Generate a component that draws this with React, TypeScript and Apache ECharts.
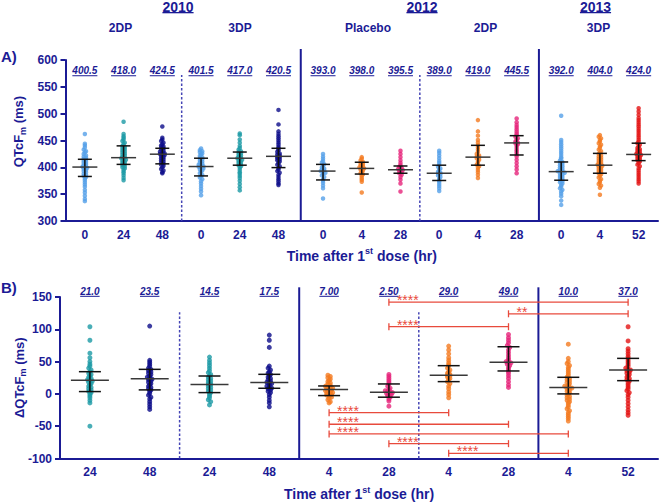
import React, { useEffect, useRef } from "react";
import * as echarts from "echarts";

const BLUE = "#1b1b95";
const RED = "#e84a3c";
const FONT = "'Liberation Sans', Arial, Helvetica, sans-serif";

const COLORS: Record<string, string> = {
  lb: "#55a0e8",
  tl: "#1b9aa5",
  nv: "#0c0c8a",
  or: "#f47a20",
  pk: "#e6247a",
  rd: "#e41414",
};

// ---------- Panel A: QTcFm ----------
const catA = ["0", "24", "48", "0", "24", "48", "0", "4", "28", "0", "4", "28", "0", "4", "52"];
const studyA = [0, 0, 0, 0, 0, 0, 1, 1, 1, 1, 1, 1, 2, 2, 2];
const armA = [0, 0, 0, 1, 1, 1, 2, 2, 2, 3, 3, 3, 4, 4, 4];
const medianA = [400.5, 418.0, 424.5, 401.5, 417.0, 420.5, 393.0, 398.0, 395.5, 389.0, 419.0, 445.5, 392.0, 404.0, 424.0];
const medianTextA = ["400.5", "418.0", "424.5", "401.5", "417.0", "420.5", "393.0", "398.0", "395.5", "389.0", "419.0", "445.5", "392.0", "404.0", "424.0"];
const q1A = [383, 405.5, 406.5, 384, 404, 399.5, 376.5, 387.5, 389, 375.5, 404, 423, 376, 389, 412.5];
const q3A = [415, 440, 435.5, 417, 428.5, 435.5, 405.5, 409.5, 402.5, 404, 441, 459, 410, 426, 445];
const colorA = ["lb", "tl", "nv", "lb", "tl", "nv", "lb", "or", "pk", "lb", "or", "pk", "lb", "or", "rd"];
const dotsA: number[][] = [
  [462, 444, 441, 437, 433, 430, 428, 425, 422, 420, 418, 416, 414, 412, 410, 408, 406, 404, 402, 401, 400, 399, 397, 395, 393, 391, 388, 386, 384, 382, 379, 376, 372, 368, 364, 358, 353, 347, 341, 337],
  [485, 462, 458, 455, 452, 449, 446, 443, 440, 438, 436, 434, 432, 430, 428, 426, 424, 422, 420, 418, 417, 416, 414, 412, 410, 408, 406, 404, 402, 400, 398, 395, 392, 389, 385, 380, 376],
  [476, 455, 452, 449, 446, 443, 441, 439, 437, 435, 433, 431, 429, 427, 426, 425, 424, 423, 421, 419, 417, 415, 413, 411, 409, 407, 405, 403, 400, 397, 394, 391, 389],
  [435, 432, 430, 428, 426, 424, 421, 419, 417, 415, 413, 411, 409, 407, 405, 403, 402, 401, 400, 398, 396, 394, 392, 389, 386, 384, 381, 378, 374, 370, 365, 360, 355, 348],
  [463, 460, 452, 446, 440, 436, 433, 430, 428, 426, 424, 422, 420, 418, 417, 416, 414, 412, 410, 408, 406, 404, 402, 399, 395, 391, 388, 384, 380, 375, 369, 363, 357],
  [507, 480, 467, 462, 458, 454, 450, 446, 442, 438, 435, 432, 429, 426, 424, 422, 420, 419, 417, 415, 413, 411, 408, 405, 402, 399, 396, 393, 390, 386, 382, 378, 374, 370, 367],
  [425, 420, 416, 412, 409, 406, 403, 400, 398, 396, 394, 393, 392, 390, 388, 385, 382, 378, 375, 371, 366, 361, 342],
  [419, 416, 413, 410, 408, 406, 404, 402, 400, 399, 398, 396, 394, 392, 389, 387, 384, 380, 377, 373, 353],
  [431, 425, 419, 413, 408, 404, 401, 399, 397, 396, 395, 393, 391, 389, 386, 382, 377, 370, 355],
  [431, 427, 422, 417, 412, 408, 404, 401, 398, 395, 392, 390, 389, 387, 385, 382, 379, 376, 373, 369, 365, 361, 356],
  [488, 467, 459, 451, 446, 441, 437, 433, 429, 425, 422, 420, 419, 417, 414, 411, 408, 405, 402, 399, 395, 391, 386, 380],
  [491, 484, 479, 475, 471, 467, 463, 460, 457, 454, 451, 448, 446, 445, 443, 440, 436, 432, 428, 424, 420, 414, 408, 402, 396, 389],
  [496, 451, 447, 443, 439, 435, 431, 427, 423, 419, 416, 413, 410, 408, 406, 404, 402, 400, 398, 396, 394, 393, 392, 391, 390, 388, 386, 384, 382, 380, 378, 376, 374, 372, 370, 367, 364, 361, 358, 355, 351, 346, 338, 330],
  [460, 457, 454, 451, 448, 445, 442, 439, 436, 433, 430, 427, 425, 422, 420, 418, 416, 414, 412, 410, 408, 406, 405, 404, 403, 401, 399, 397, 395, 393, 391, 389, 387, 384, 381, 378, 375, 372, 369, 366, 362, 349],
  [510, 504, 498, 492, 488, 484, 480, 476, 472, 468, 464, 460, 456, 452, 448, 445, 442, 439, 436, 434, 432, 430, 428, 426, 425, 424, 423, 421, 419, 417, 415, 413, 411, 408, 405, 402, 398, 394, 390, 386, 382, 378, 374, 370],
];
const ticksA = [300, 600, 50];

// ---------- Panel B: ΔQTcFm ----------
const catB = ["24", "48", "24", "48", "4", "28", "4", "28", "4", "52"];
const studyB = [0, 0, 0, 0, 1, 1, 1, 1, 2, 2];
const armB = [0, 0, 1, 1, 2, 2, 3, 3, 4, 4];
const medianB = [21.0, 23.5, 14.5, 17.5, 7.0, 2.5, 29.0, 49.0, 10.0, 37.0];
const medianTextB = ["21.0", "23.5", "14.5", "17.5", "7.00", "2.50", "29.0", "49.0", "10.0", "37.0"];
const q1B = [3.6, 6.2, 2.0, 8.7, -2.6, -5.1, 19, 35.5, 0, 20.5];
const q3B = [34.4, 38, 27.7, 30.3, 12.3, 15.4, 43.7, 73, 25.7, 55];
const colorB = ["tl", "nv", "tl", "nv", "or", "pk", "or", "pk", "or", "rd"];
const dotsB: number[][] = [
  [104, 83, 63, 56, 50, 46, 43, 40, 37, 34, 32, 30, 28, 26, 24, 22, 21, 20, 18, 16, 14, 12, 10, 8, 6, 4, 2, 0, -3, -6, -10, -14, -50],
  [105, 52, 49, 46, 43, 40, 38, 36, 34, 32, 30, 28, 26, 24, 23, 22, 20, 18, 16, 14, 12, 10, 8, 6, 4, 1, -2, -5, -8, -12, -16, -20, -24],
  [57, 52, 48, 44, 40, 36, 33, 30, 28, 26, 24, 22, 20, 18, 16, 15, 14, 12, 10, 8, 6, 4, 2, 0, -3, -6, -9, -12, -17],
  [91, 83, 72, 43, 40, 37, 34, 32, 30, 28, 26, 24, 22, 20, 18, 17, 16, 14, 12, 10, 9, 8, 6, 4, 2, -1, -5, -10, -14, -20],
  [29, 27, 25, 23, 21, 19, 17, 15, 13, 12, 11, 10, 9, 8, 7, 6, 5, 4, 3, 2, 1, 0, -1, -2, -3, -5, -7, -9, -12, -14],
  [30, 27, 24, 21, 18, 15, 12, 9, 7, 5, 4, 3, 2, 1, 0, -1, -3, -5, -8, -11, -19],
  [74, 68, 62, 56, 52, 48, 45, 43, 40, 37, 34, 32, 30, 29, 28, 26, 24, 22, 19, 16, 12, 8, 3, -1, -6],
  [92, 87, 83, 79, 75, 72, 68, 64, 60, 56, 53, 50, 49, 48, 46, 44, 41, 38, 35, 32, 28, 24, 19, 14, 10],
  [77, 55, 50, 47, 44, 41, 38, 35, 32, 29, 26, 24, 22, 20, 18, 16, 14, 12, 11, 10, 9, 8, 6, 4, 2, 0, -2, -4, -6, -8, -10, -12, -14, -17, -20, -23, -26, -29, -32, -35, -38, -42],
  [104, 82, 70, 66, 62, 58, 55, 52, 49, 46, 43, 40, 38, 37, 36, 34, 32, 30, 28, 26, 24, 22, 20, 17, 14, 11, 8, 5, 2, -1, -5, -10, -15, -20, -25, -29, -33],
];
const ticksB = [-100, 150, 50];

// significance brackets (panel B)
const bracketFrom = [5, 7, 5, 4, 4, 4, 5, 6];
const bracketTo = [9, 9, 7, 6, 7, 8, 7, 8];
const bracketY = [142, 124, 104, -29, -47, -62, -77, -92];
const bracketText = ["****", "**", "****", "****", "****", "****", "****", "****"];

// headers
const years = ["2010", "2012", "2013"];
const arms = ["2DP", "3DP", "Placebo", "2DP", "3DP"];

let measureCtx: CanvasRenderingContext2D | null = null;
function measure(text: string, font: string): number {
  if (!measureCtx) measureCtx = document.createElement("canvas").getContext("2d");
  if (!measureCtx) return text.length * 6;
  measureCtx.font = font;
  return measureCtx.measureText(text).width;
}

function spread(values: number[], center: number, binSize: number, dx: number) {
  const bins = new Map<number, number[]>();
  values.forEach((v) => {
    const b = Math.round(v / binSize);
    if (!bins.has(b)) bins.set(b, []);
    bins.get(b)!.push(v);
  });
  const out: number[][] = [];
  bins.forEach((list) => {
    list.forEach((v, k) => out.push([center + (k - (list.length - 1) / 2) * dx, v]));
  });
  return out;
}

export default function App() {
  const ref = useRef<HTMLDivElement>(null);
  useEffect(() => {
    document.body.style.margin = "0";
    const chart = echarts.init(ref.current!, null, { renderer: "svg" });

    const STUDY_GAP = 0.15;
    const posA = catA.map((_, i) => i + studyA[i] * STUDY_GAP);
    const posB = catB.map((_, i) => i);

    const sepsFor = (pos: number[], study: number[], arm: number[]) => {
      const out: number[][] = [];
      for (let i = 0; i < pos.length - 1; i++) {
        if (arm[i] !== arm[i + 1]) {
          out.push([(pos[i] + pos[i + 1]) / 2, study[i] !== study[i + 1] ? 1 : 0]);
        }
      }
      return out;
    };
    const sepsA = sepsFor(posA, studyA, armA);
    const sepsB = sepsFor(posB, studyB, armB);

    const fmt = (pos: number[], cats: string[]) => (v: number) => {
      const idx = pos.findIndex((p) => Math.abs(p - v) < 1e-6);
      return idx >= 0 ? cats[idx] : "";
    };

    const tickLabel = { color: BLUE, fontWeight: "bold" as const, fontSize: 12, fontFamily: FONT };
    const axisLine = { show: true, onZero: false, lineStyle: { color: BLUE, width: 2 } };

    const xName = "{a|Time after 1}{s|st}{a| dose (hr)}";
    const xNameStyle = {
      color: BLUE,
      fontFamily: FONT,
      fontWeight: "bold" as const,
      fontSize: 14,
      rich: {
        a: { color: BLUE, fontFamily: FONT, fontWeight: "bold", fontSize: 14, lineHeight: 16, verticalAlign: "bottom" },
        s: { color: BLUE, fontFamily: FONT, fontWeight: "bold", fontSize: 9, lineHeight: 9, verticalAlign: "top" },
      },
    };
    const yNameStyle = (padLeft: number) => ({
      color: BLUE,
      fontFamily: FONT,
      fontWeight: "bold" as const,
      fontSize: 13,
      padding: [0, 0, 0, padLeft],
      rich: {
        a: { color: BLUE, fontFamily: FONT, fontWeight: "bold", fontSize: 13, lineHeight: 15, verticalAlign: "top" },
        s: { color: BLUE, fontFamily: FONT, fontWeight: "bold", fontSize: 9, lineHeight: 9, padding: [10, 0, 0, 0], verticalAlign: "bottom" },
      },
    });

    const series: any[] = [];

    // dots
    dotsA.forEach((vals, i) => {
      series.push({
        type: "scatter",
        xAxisIndex: 0,
        yAxisIndex: 0,
        symbol: "circle",
        symbolSize: 4.5,
        itemStyle: { color: COLORS[colorA[i]] },
        data: spread(vals, posA[i], 4, 0.06),
        z: 2,
        silent: true,
      });
    });
    dotsB.forEach((vals, i) => {
      series.push({
        type: "scatter",
        xAxisIndex: 1,
        yAxisIndex: 1,
        symbol: "circle",
        symbolSize: 5,
        itemStyle: { color: COLORS[colorB[i]] },
        data: spread(vals, posB[i], 3.5, 0.04),
        z: 2,
        silent: true,
      });
    });

    // median + IQR bars
    const barSeries = (axis: number, pos: number[], q1: number[], med: number[], q3: number[], medW: number, iqrW: number) => ({
      type: "custom",
      xAxisIndex: axis,
      yAxisIndex: axis,
      z: 5,
      silent: true,
      clip: false,
      data: pos.map((p, i) => [p, q1[i], med[i], q3[i]]),
      renderItem: (params: any, api: any) => {
        const x = api.value(0);
        const a = api.coord([x, api.value(1)]);
        const m = api.coord([x, api.value(2)]);
        const b = api.coord([x, api.value(3)]);
        const line = (x1: number, y1: number, x2: number, y2: number, c: string) => ({
          type: "line",
          shape: { x1, y1, x2, y2 },
          style: { stroke: c, lineWidth: 1.5 },
        });
        return {
          type: "group",
          children: [
            line(a[0], a[1], b[0], b[1], "#111"),
            line(m[0] - medW / 2, m[1], m[0] + medW / 2, m[1], "#383838"),
            line(a[0] - iqrW / 2, a[1], a[0] + iqrW / 2, a[1], "#111"),
            line(b[0] - iqrW / 2, b[1], b[0] + iqrW / 2, b[1], "#111"),
          ],
        };
      },
    });
    series.push(barSeries(0, posA, q1A, medianA, q3A, 25, 14));
    series.push(barSeries(1, posB, q1B, medianB, q3B, 38, 22));

    // median labels
    const labelFont = `italic bold 10px ${FONT}`;
    const labelSeries = (axis: number, pos: number[], texts: string[], yVal: number) => ({
      type: "custom",
      xAxisIndex: axis,
      yAxisIndex: axis,
      z: 6,
      silent: true,
      clip: false,
      data: pos.map((p) => [p, yVal]),
      renderItem: (params: any, api: any) => {
        const p = api.coord([api.value(0), api.value(1)]);
        const t = texts[params.dataIndex];
        const w = measure(t, labelFont);
        return {
          type: "group",
          children: [
            {
              type: "text",
              x: p[0],
              y: p[1],
              style: { text: t, fill: BLUE, font: labelFont, align: "center", verticalAlign: "middle" },
            },
            { type: "rect", shape: { x: p[0] - w / 2, y: p[1] + 4.5, width: w, height: 1 }, style: { fill: BLUE } },
          ],
        };
      },
    });
    series.push(labelSeries(0, posA, medianTextA, 580));
    series.push(labelSeries(1, posB, medianTextB, 158.8));

    // separators
    const sepSeries = (axis: number, seps: number[][], bottom: number, topSolid: number, topDashed: number) => ({
      type: "custom",
      xAxisIndex: axis,
      yAxisIndex: axis,
      z: 1,
      silent: true,
      clip: false,
      data: seps,
      renderItem: (params: any, api: any) => {
        const solid = api.value(1) === 1;
        const p0 = api.coord([api.value(0), bottom]);
        const p1 = api.coord([api.value(0), solid ? topSolid : topDashed]);
        return {
          type: "line",
          shape: { x1: p0[0], y1: p0[1], x2: p1[0], y2: p1[1] },
          style: solid
            ? { stroke: BLUE, lineWidth: 2 }
            : { stroke: "#4545b5", lineWidth: 1.5, lineDash: [2.5, 2] },
        };
      },
    });
    series.push(sepSeries(0, sepsA, ticksA[0], 620.5, 572));
    series.push(sepSeries(1, sepsB, ticksB[0], 165, 126.4));

    // significance brackets
    series.push({
      type: "custom",
      xAxisIndex: 1,
      yAxisIndex: 1,
      z: 7,
      silent: true,
      clip: false,
      data: bracketFrom.map((f, i) => [posB[f], posB[bracketTo[i]], bracketY[i]]),
      renderItem: (params: any, api: any) => {
        const p1 = api.coord([api.value(0), api.value(2)]);
        const p2 = api.coord([api.value(1), api.value(2)]);
        const st = { stroke: RED, lineWidth: 1.3 };
        return {
          type: "group",
          children: [
            { type: "line", shape: { x1: p1[0], y1: p1[1], x2: p2[0], y2: p2[1] }, style: st },
            { type: "line", shape: { x1: p1[0], y1: p1[1] - 3.5, x2: p1[0], y2: p1[1] + 3.5 }, style: st },
            { type: "line", shape: { x1: p2[0], y1: p2[1] - 3.5, x2: p2[0], y2: p2[1] + 3.5 }, style: st },
            {
              type: "text",
              x: p1[0] + 8,
              y: p1[1] - 2,
              style: {
                text: bracketText[params.dataIndex],
                fill: RED,
                font: `14px ${FONT}`,
                lineHeight: 9,
                align: "left",
                verticalAlign: "middle",
              },
            },
          ],
        };
      },
    });

    // header graphics
    const yearX = [178, 422, 595.5];
    const armX = [120.5, 240, 368, 485.5, 598.5];
    const yearFont = `bold 14px ${FONT}`;
    const graphic: any[] = [];
    years.forEach((t, i) => {
      const w = measure(t, yearFont);
      graphic.push({
        type: "text",
        x: yearX[i],
        y: 6.5,
        style: { text: t, fill: BLUE, font: yearFont, align: "center", verticalAlign: "middle" },
      });
      graphic.push({ type: "rect", shape: { x: yearX[i] - w / 2, y: 12, width: w, height: 1.3 }, style: { fill: BLUE } });
    });
    arms.forEach((t, i) => {
      graphic.push({
        type: "text",
        x: armX[i],
        y: 28,
        style: { text: t, fill: BLUE, font: `bold 12px ${FONT}`, align: "center", verticalAlign: "middle" },
      });
    });
    graphic.push({
      type: "text",
      x: 1,
      y: 56.5,
      style: { text: "A)", fill: BLUE, font: `bold 15px ${FONT}`, align: "left", verticalAlign: "middle" },
    });
    graphic.push({
      type: "text",
      x: 1,
      y: 287,
      style: { text: "B)", fill: BLUE, font: `bold 15px ${FONT}`, align: "left", verticalAlign: "middle" },
    });

    const option: any = {
      animation: false,
      backgroundColor: "#ffffff",
      textStyle: { fontFamily: FONT },
      grid: [
        { left: 60, top: 60, width: 598, height: 161 },
        { left: 60, top: 297, width: 598, height: 161.5 },
      ],
      xAxis: [
        {
          gridIndex: 0,
          type: "value",
          min: -0.5,
          max: posA[posA.length - 1] + 0.5,
          axisLine,
          axisTick: { show: false },
          splitLine: { show: false },
          axisLabel: { ...tickLabel, margin: 8, customValues: posA, formatter: fmt(posA, catA) },
          name: xName,
          nameLocation: "middle",
          nameGap: 25.5,
          nameMoveOverlap: false,
          nameTextStyle: xNameStyle,
        },
        {
          gridIndex: 1,
          type: "value",
          min: -0.5,
          max: posB[posB.length - 1] + 0.5,
          axisLine,
          axisTick: { show: false },
          splitLine: { show: false },
          axisLabel: { ...tickLabel, margin: 7, customValues: posB, formatter: fmt(posB, catB) },
          name: xName,
          nameLocation: "middle",
          nameGap: 26.5,
          nameMoveOverlap: false,
          nameTextStyle: xNameStyle,
        },
      ],
      yAxis: [
        {
          gridIndex: 0,
          type: "value",
          min: ticksA[0],
          max: ticksA[1],
          interval: ticksA[2],
          axisLine,
          axisTick: { show: true, length: 5, lineStyle: { color: BLUE, width: 2 } },
          splitLine: { show: false },
          axisLabel: { ...tickLabel, margin: 8 },
          name: "{a|QTcF}{s|m}{a| (ms)}",
          nameLocation: "middle",
          nameGap: 38.5,
          nameMoveOverlap: false,
          nameTextStyle: yNameStyle(18),
        },
        {
          gridIndex: 1,
          type: "value",
          min: ticksB[0],
          max: ticksB[1],
          interval: ticksB[2],
          axisLine,
          axisTick: { show: true, length: 5, lineStyle: { color: BLUE, width: 2 } },
          splitLine: { show: false },
          axisLabel: { ...tickLabel, margin: 8 },
          name: "{a|ΔQTcF}{s|m}{a| (ms)}",
          nameLocation: "middle",
          nameGap: 32.5,
          nameMoveOverlap: false,
          nameTextStyle: yNameStyle(0),
        },
      ],
      graphic,
      series,
    };
    chart.setOption(option);
    return () => chart.dispose();
  }, []);
  return <div ref={ref} style={{ width: 660, height: 503 }} />;
}
